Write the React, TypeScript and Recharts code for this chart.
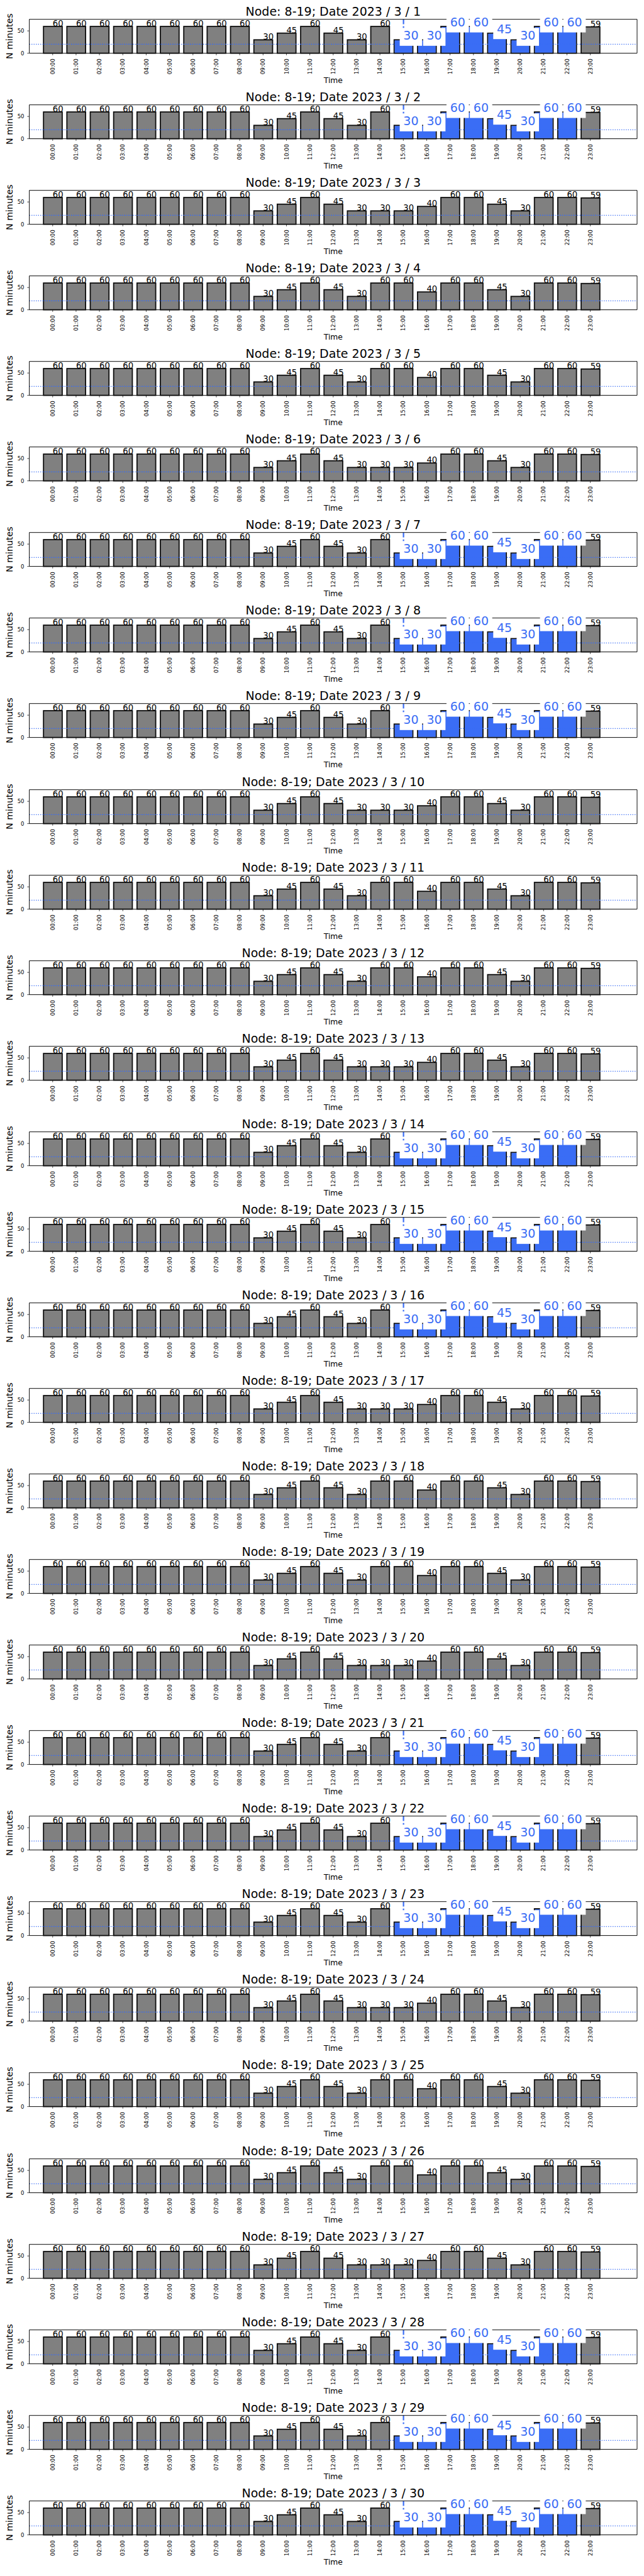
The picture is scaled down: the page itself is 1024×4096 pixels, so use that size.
import React from "react";
import {
  ComposedChart,
  Bar,
  Scatter,
  XAxis,
  YAxis,
  ReferenceLine,
} from "recharts";

// ---- data ----
const hours = [
  "00:00", "01:00", "02:00", "03:00", "04:00", "05:00", "06:00", "07:00",
  "08:00", "09:00", "10:00", "11:00", "12:00", "13:00", "14:00", "15:00",
  "16:00", "17:00", "18:00", "19:00", "20:00", "21:00", "22:00", "23:00",
];

const days = [
  1, 2, 3, 4, 5, 6, 7, 8, 9, 10, 11, 12, 13, 14, 15,
  16, 17, 18, 19, 20, 21, 22, 23, 24, 25, 26, 27, 28, 29, 30,
];

// Tue-Thu: busy days, evening hours highlighted in blue
const busyDays = [1, 2, 7, 8, 9, 14, 15, 16, 21, 22, 23, 28, 29, 30];
const weekendDays = [4, 5, 11, 12, 18, 19, 25, 26];

const busyMinutes = [
  60, 60, 60, 60, 60, 60, 60, 60, 60, 30, 45, 60,
  45, 30, 60, 30, 30, 60, 60, 45, 30, 60, 60, 59,
];
const weekdayMinutes = [
  60, 60, 60, 60, 60, 60, 60, 60, 60, 30, 45, 60,
  45, 30, 30, 30, 40, 60, 60, 45, 30, 60, 60, 59,
];
const weekendMinutes = [
  60, 60, 60, 60, 60, 60, 60, 60, 60, 30, 45, 60,
  45, 30, 60, 60, 40, 60, 60, 45, 30, 60, 60, 59,
];

const highlightHours = [
  "15:00", "16:00", "17:00", "18:00", "19:00", "20:00", "21:00", "22:00",
];
const markHour = "15:00";
const thresholdMinutes = 20;
const yTicks = [0, 50];

// ---- layout (reference * 0.682) ----
const W = 1024;
const PANEL_STEP = 136.06;
const CH = 136;
const PLOT_TOP = 30.7;
const PLOT_BOTTOM = 84.6;
const PLOT_LEFT = 46.6;
const PLOT_RIGHT = 1013;
const Y_MAX = 76;
const X_DOMAIN: [number, number] = [-1, 25];
const BAR_FRAC = 0.8;
const BAR_SIZE = (BAR_FRAC * (PLOT_RIGHT - PLOT_LEFT)) / 26;
const Y_AXIS_W = 40;
const X_AXIS_H = 30;

const FONT = "'DejaVu Sans', sans-serif";
const BLUE = "#3a6df5";
const GRAY = "#808080";
const EDGE = "#0d0d0d";
const EDGE_W = 1.8;
const DOT_W = 1.3;
const DOT_DASH = "1.3 2.2";

const minutesFor = (day: number) =>
  busyDays.includes(day)
    ? busyMinutes
    : weekendDays.includes(day)
    ? weekendMinutes
    : weekdayMinutes;

const BarShape = (props: any) => {
  const { x, y, width, height, payload } = props;
  const bottom = y + height;
  const unit = height / payload.minutes;
  const top = bottom - Y_MAX * unit;
  const cx = x + width / 2;
  const inset = EDGE_W / 2;
  // threshold line drawn again over the bar so it sits on top of it
  const plotLeft = cx - (payload.x - X_DOMAIN[0]) * (width / BAR_FRAC);
  const sx = x - EDGE_W;
  const ty = bottom - thresholdMinutes * unit;
  return (
    <g>
      <rect x={x} y={y} width={width} height={height} fill={GRAY} stroke={EDGE} strokeWidth={EDGE_W} />
      {payload.mark && (
        <line x1={cx} x2={cx} y1={top} y2={bottom} stroke={BLUE} strokeWidth={2.2} strokeDasharray="7.7 3.3" />
      )}
      {payload.hot && (
        <rect x={x + inset} y={y + inset} width={width - 2 * inset} height={height - 2 * inset} fill={BLUE} />
      )}
      <line
        x1={sx}
        x2={x + width + EDGE_W}
        y1={ty}
        y2={ty}
        stroke={BLUE}
        strokeWidth={DOT_W}
        strokeDasharray={DOT_DASH}
        strokeDashoffset={sx - plotLeft}
      />
    </g>
  );
};

const LabelShape = (props: any) => {
  const { cx, cy, payload } = props;
  const text = String(payload.minutes);
  if (payload.hot) {
    const fs = 19;
    const pad = 0.3 * fs;
    const w = text.length * 0.636 * fs;
    return (
      <g>
        <rect x={cx - pad} y={cy - 1.0 * fs} width={w + 2 * pad} height={1.5 * fs} fill="#ffffff" />
        <text x={cx} y={cy} fill={BLUE} fontSize={fs} fontFamily={FONT}>
          {text}
        </text>
      </g>
    );
  }
  return (
    <text x={cx} y={cy} fill="#000" fontSize={13.2} fontFamily={FONT}>
      {text}
    </text>
  );
};

const HourTick = (props: any) => {
  const { x, y, payload } = props;
  const fs = 8.7;
  const ax = x + 0.36 * fs;
  return (
    <text
      x={ax}
      y={y}
      transform={`rotate(-90 ${ax} ${y})`}
      textAnchor="end"
      fontSize={fs}
      fontFamily={FONT}
      fill="#000"
    >
      {hours[payload.value]}
    </text>
  );
};

function DayChart({ day, top }: { day: number; top: number }) {
  const minutes = minutesFor(day);
  const busy = busyDays.includes(day);
  const data = hours.map((h, i) => ({
    x: i,
    hour: h,
    minutes: minutes[i],
    hot: busy && highlightHours.includes(h),
    mark: busy && h === markHour,
  }));
  const midX = (PLOT_LEFT + PLOT_RIGHT) / 2;
  const midY = (PLOT_TOP + PLOT_BOTTOM) / 2;

  return (
    <div style={{ position: "absolute", left: 0, top, width: W, height: CH }}>
      <ComposedChart
        width={W}
        height={CH}
        data={data}
        margin={{
          top: PLOT_TOP,
          right: W - PLOT_RIGHT,
          bottom: CH - PLOT_BOTTOM - X_AXIS_H,
          left: PLOT_LEFT - Y_AXIS_W,
        }}
      >
        <XAxis
          type="number"
          dataKey="x"
          domain={X_DOMAIN}
          ticks={data.map((d) => d.x)}
          interval={0}
          height={X_AXIS_H}
          tickSize={3.3}
          tickMargin={5.4}
          tick={<HourTick />}
          tickLine={{ stroke: EDGE, strokeWidth: 0.75 }}
          axisLine={{ stroke: EDGE, strokeWidth: 1 }}
        />
        <YAxis
          domain={[0, Y_MAX]}
          ticks={yTicks}
          width={Y_AXIS_W}
          tickSize={3.3}
          tickMargin={4.8}
          tick={{ fontSize: 8.5, fill: "#000", fontFamily: FONT }}
          tickLine={{ stroke: EDGE, strokeWidth: 0.75 }}
          axisLine={{ stroke: EDGE, strokeWidth: 1 }}
        />
        <ReferenceLine
          y={thresholdMinutes}
          stroke={BLUE}
          strokeWidth={DOT_W}
          strokeDasharray={DOT_DASH}
        />
        <Bar dataKey="minutes" barSize={BAR_SIZE} shape={<BarShape />} isAnimationActive={false} />
        <ReferenceLine y={Y_MAX} stroke={EDGE} strokeWidth={1} zIndex={350} isFront />
        <ReferenceLine x={X_DOMAIN[1]} stroke={EDGE} strokeWidth={1} zIndex={350} isFront />
        <Scatter dataKey="minutes" shape={<LabelShape />} isAnimationActive={false} zIndex={700} />
      </ComposedChart>
      <svg
        width={W}
        height={CH}
        style={{ position: "absolute", left: 0, top: 0, pointerEvents: "none" }}
      >
        <text x={midX} y={24.9} textAnchor="middle" fontSize={19} fontFamily={FONT} fill="#000">
          {`Node: 8-19; Date 2023 / 3 / ${day}`}
        </text>
        <text x={midX} y={131.8} textAnchor="middle" fontSize={12.3} fontFamily={FONT} fill="#000">
          Time
        </text>
        <text
          x={15.5}
          y={midY}
          transform={`rotate(-90 15.5 ${midY})`}
          textAnchor="middle"
          dominantBaseline="central"
          fontSize={14.2}
          fontFamily={FONT}
          fill="#000"
        >
          N minutes
        </text>
      </svg>
    </div>
  );
}

export default function App() {
  return (
    <div style={{ position: "absolute", left: 0, top: 0, width: W, height: 4096, background: "#fff" }}>
      {days.map((d, k) => (
        <DayChart key={d} day={d} top={k * PANEL_STEP} />
      ))}
    </div>
  );
}
